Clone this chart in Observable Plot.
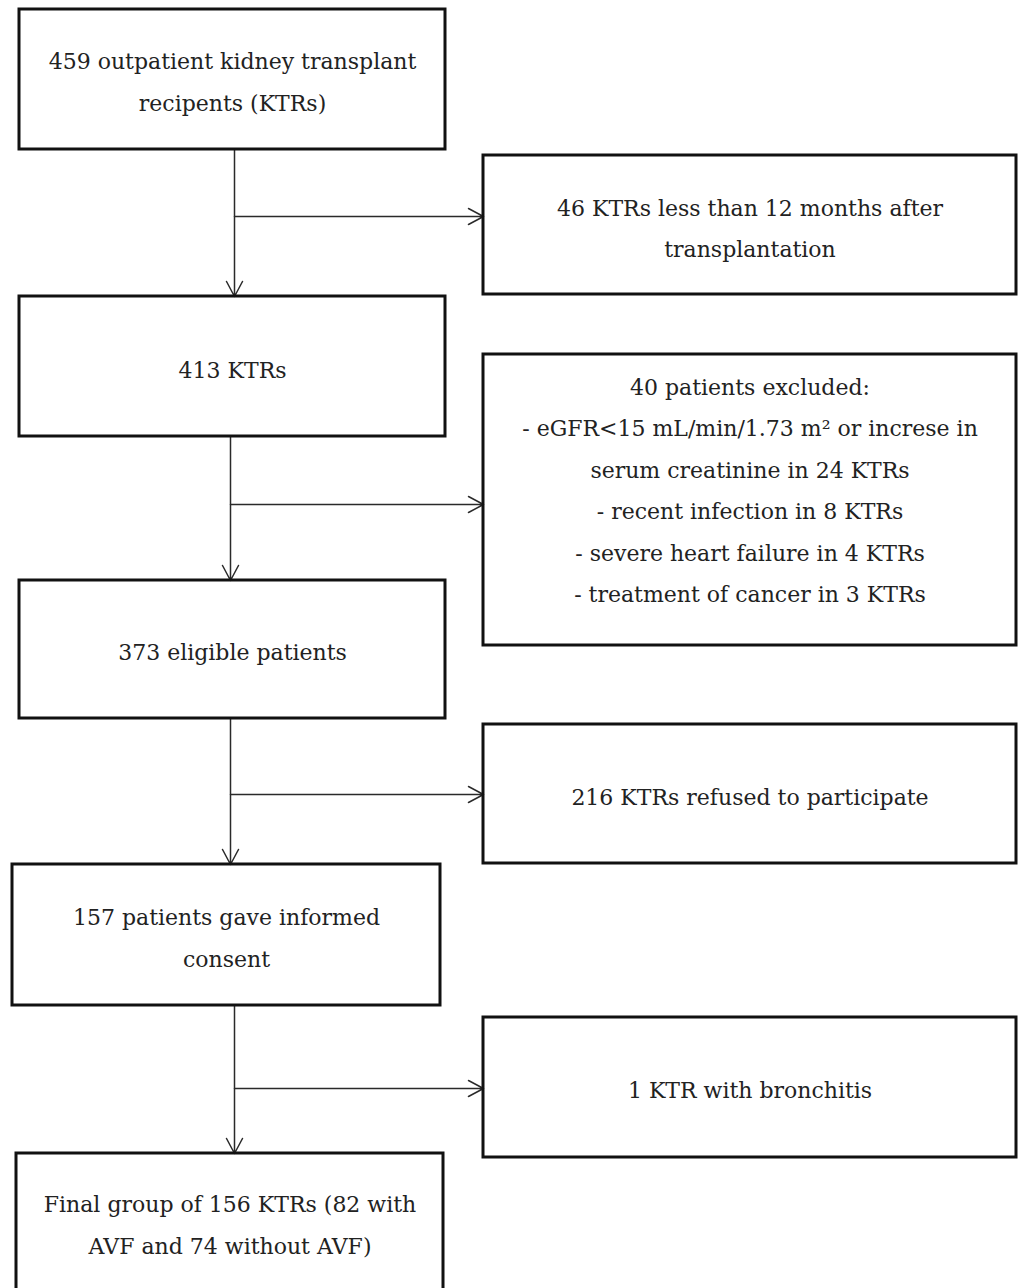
<!DOCTYPE html>
<html><head><meta charset="utf-8">
<script src="https://cdn.jsdelivr.net/npm/d3@7"></script>
<script src="https://cdn.jsdelivr.net/npm/@observablehq/plot@0.6"></script>
<style>html,body{margin:0;padding:0;background:#fff}#chart svg{display:block}</style>
</head><body><div id="chart"></div>
<script>
// Flow content
const mainLabels = [
  "459 outpatient kidney transplant\nrecipents (KTRs)",
  "413 KTRs",
  "373 eligible patients",
  "157 patients gave informed\nconsent",
  "Final group of 156 KTRs (82 with\nAVF and 74 without AVF)"
];
const sideLabels = [
  "46 KTRs less than 12 months after\ntransplantation",
  "40 patients excluded:\n- eGFR<15 mL/min/1.73 m² or increse in\nserum creatinine in 24 KTRs\n- recent infection in 8 KTRs\n- severe heart failure in 4 KTRs\n- treatment of cancer in 3 KTRs",
  "216 KTRs refused to participate",
  "1 KTR with bronchitis"
];

// Layout (pixel space of the figure)
const W = 1020, H = 1288;
const mainX1 = [19, 19, 19, 12, 16];
const mainX2 = [445, 445, 445, 440, 443];
const mainY1 = [9, 296, 580, 864, 1153];
const mainY2 = [149, 436, 718, 1005, 1320];
const mainTextY = [82.5, 370, 652, 938.5, 1225.5];
const sideX1 = [483, 483, 483, 483];
const sideX2 = [1016, 1016, 1016, 1016];
const sideY1 = [155, 354, 724, 1017];
const sideY2 = [294, 645, 863, 1157];
const sideTextY = [229, 491, 797, 1090];
const trunkX = [234, 230, 230, 234];
const branchY = [216, 504, 794, 1088];
const lineStep = 41.5;

const mainBoxes = mainLabels.map((label, i) => ({
  label, x1: mainX1[i], x2: mainX2[i], y1: mainY1[i], y2: mainY2[i],
  cx: (mainX1[i] + mainX2[i]) / 2, ty: mainTextY[i]
}));
const sideBoxes = sideLabels.map((label, i) => ({
  label, x1: sideX1[i], x2: sideX2[i], y1: sideY1[i], y2: sideY2[i],
  cx: (sideX1[i] + sideX2[i]) / 2, ty: sideTextY[i]
}));
const toLines = (boxes) => boxes.flatMap((b) => {
  const parts = b.label.split("\n");
  const m = parts.length;
  return parts.map((t, j) => ({t, x: b.cx, y: b.ty + (j - (m - 1) / 2) * lineStep}));
});
const textLines = toLines(mainBoxes).concat(toLines(sideBoxes));
const downArrows = trunkX.map((x, i) => ({x, y1: mainY2[i], y2: mainY1[i + 1]}));
const sideArrows = trunkX.map((x, i) => ({x1: x, x2: sideX1[i], y: branchY[i]}));

const font = "'DejaVu Serif', 'Liberation Serif', serif";
const fs = 22;

const chart = Plot.plot({
  width: W, height: H,
  margin: 0,
  x: {domain: [0, W], range: [0, W], axis: null},
  y: {domain: [0, H], range: [0, H], axis: null},
  style: {background: "#fff"},
  marks: [
    Plot.arrow(downArrows, {x1: "x", x2: "x", y1: "y1", y2: "y2", stroke: "#2a2a2a", strokeWidth: 1.5, headLength: 17, headAngle: 56}),
    Plot.arrow(sideArrows, {x1: "x1", x2: "x2", y1: "y", y2: "y", stroke: "#2a2a2a", strokeWidth: 1.5, headLength: 17, headAngle: 56}),
    Plot.rect(mainBoxes, {x1: "x1", x2: "x2", y1: "y1", y2: "y2", fill: "none", stroke: "#111", strokeWidth: 3, clip: true}),
    Plot.rect(sideBoxes, {x1: "x1", x2: "x2", y1: "y1", y2: "y2", fill: "none", stroke: "#111", strokeWidth: 3}),
    Plot.text(textLines, {x: "x", y: "y", text: "t", fontFamily: font, fontSize: fs, fill: "#222", textAnchor: "middle"})
  ]
});
document.getElementById("chart").appendChild(chart);
</script>
</body></html>
